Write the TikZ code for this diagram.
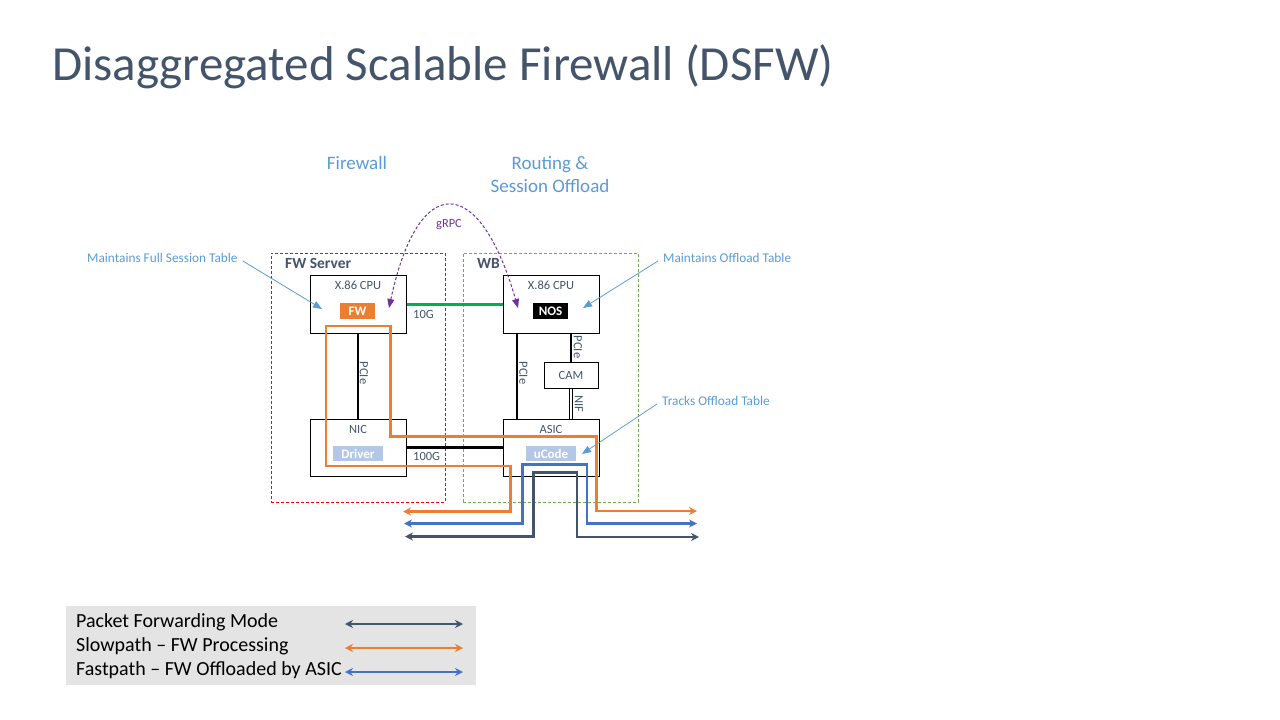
\documentclass[tikz,border=0pt]{standalone}
\usepackage{fontspec}
\setmainfont{Carlito}
\usetikzlibrary{arrows.meta,calc}
\definecolor{slate}{HTML}{44546A}
\definecolor{accblue}{HTML}{5B9BD5}
\definecolor{fworange}{HTML}{ED7D31}
\definecolor{pathblue}{HTML}{4472C4}
\definecolor{linkgreen}{HTML}{00B050}
\definecolor{grpcpurple}{HTML}{7030A0}
\definecolor{wbgreen}{HTML}{70AD47}
\definecolor{tagblue}{HTML}{B4C7E7}
\definecolor{legendgray}{HTML}{E4E4E4}
\newcommand\setsz[1]{\fontsize{#1}{#1}\selectfont}
\begin{document}
\begin{tikzpicture}[x=1pt,y=-1pt,
  hwbox/.style={draw=black, line width=1pt, minimum width=96pt, minimum height=58pt, inner sep=0pt},
  tagbox/.style={minimum width=35pt, minimum height=16pt, inner sep=0pt, text=white, font=\setsz{13}\bfseries},
  swbox/.style={fill=tagblue, minimum width=50pt, minimum height=15pt, inner sep=0pt, text=white, font=\setsz{13}\bfseries},
  lbl/.style={text=slate, font=\setsz{12.5}, inner sep=0pt},
  note/.style={text=accblue, font=\setsz{13.3}, inner sep=0pt},
  heading/.style={text=accblue, font=\setsz{19}, inner sep=0pt, align=center},
  callout/.style={draw=accblue, line width=0.8pt, -{Triangle[length=9pt,width=7pt]}},
  flow/.style={line width=2.4pt, {Stealth[length=8pt,width=8pt]}-{Stealth[length=8pt,width=8pt]}},
  zone/.style={line width=0.9pt, dash pattern=on 3pt off 2pt, inner sep=0pt},
]
\useasboundingbox (0,0) rectangle (1280,720);

% title
\node[anchor=base west, text=slate, font=\setsz{49}, inner sep=0pt] (title) at (52,80) {Disaggregated Scalable Firewall (DSFW)};

% column headings
\node[heading] (hfw) at (357,163) {Firewall};
\node[heading] (hwb) at (550,174.5) {Routing \&\\[4pt]Session Offload};

% dashed enclosures
\node[zone, draw=red, minimum width=174pt, minimum height=249pt] (fwsrv) at (358,377.5) {};
\node[zone, draw=wbgreen, minimum width=175pt, minimum height=249pt] (wb) at (550.5,377.5) {};
\node[anchor=west, text=slate, font=\setsz{15.5}\bfseries, inner sep=0pt] (fwsrvlbl) at (285,263) {FW Server};
\node[anchor=west, text=slate, font=\setsz{15.5}\bfseries, inner sep=0pt] (wblbl) at (477,263) {WB};

% hardware boxes
\node[hwbox] (cpuL) at (358,304) {};
\node[hwbox, minimum height=57pt] (nic) at (358,447.5) {};
\node[hwbox] (cpuR) at (551,304) {};
\node[hwbox, minimum height=57pt] (asic) at (551,447.5) {};
\node[draw=black, line width=1pt, minimum width=54pt, minimum height=26pt, inner sep=0pt, text=slate, font=\setsz{12.5}] (cam) at (571,375) {CAM};

\node[lbl] at ($(cpuL.north)+(0,10.5)$) {X.86 CPU};
\node[lbl] at ($(cpuR.north)+(0,10.5)$) {X.86 CPU};
\node[lbl] at ($(nic.north)+(0,10.5)$) {NIC};
\node[lbl] at ($(asic.north)+(0,10.5)$) {ASIC};

\node[tagbox, fill=fworange] (fw) at (357.5,311) {FW};
\node[tagbox, fill=black] (nos) at (550.5,311) {NOS};
\node[swbox] (drv) at (358,453.5) {Driver};
\node[swbox] (ucode) at (551,453.5) {uCode};

% links
\draw[linkgreen, line width=3pt] (cpuL.east) -- (cpuR.west);
\node[lbl, anchor=west] (l10g) at (413,314) {10G};
\draw[black, line width=3.5pt] (nic.east) -- (asic.west);
\node[lbl, anchor=west] (l100g) at (413,456) {100G};

\draw[black, line width=2pt] (cpuL.south) -- (nic.north);
\node[lbl, rotate=-90] at (364,373) {PCIe};
\draw[black, line width=2pt] ($(cpuR.south west)+(14,0)$) -- ($(asic.north west)+(14,0)$);
\node[lbl, rotate=-90] at (523.5,373) {PCIe};
\draw[black, line width=2pt] (cpuR.south -| cam.north) -- (cam.north);
\node[lbl, rotate=-90] at (578,347) {PCIe};
\draw[black, line width=0.8pt, double=white, double distance=1.6pt] (cam.south) -- (asic.north -| cam.south);
\node[lbl, rotate=-90] at (579,404) {NIF};

% gRPC control channel
\coordinate (gA) at (389,308);
\coordinate (gB) at (518,308);
\draw[grpcpurple, line width=1pt, dash pattern=on 3pt off 2pt, {Triangle[length=9pt,width=7pt]}-{Triangle[length=9pt,width=7pt]}]
  (gA) .. controls (418,172) and (479,172) .. (gB);
\node[text=grpcpurple, font=\setsz{12.4}, inner sep=0pt] (grpc) at (449,225) {gRPC};

% callouts
\node[note, anchor=west] (n1) at (87,258) {Maintains Full Session Table};
\node[note, anchor=west] (n2) at (663,258) {Maintains Offload Table};
\node[note, anchor=west] (n3) at (662,401) {Tracks Offload Table};
\coordinate (t1) at (322,309);
\coordinate (t2) at (583,308);
\coordinate (t3) at (582,454);
\draw[callout] ($(n1.east)+(5,3)$) -- (t1);
\draw[callout] ($(n2.west)+(-5,3)$) -- (t2);
\draw[callout] ($(n3.west)+(-5,3)$) -- (t3);

% packet paths
\coordinate (oA) at (403,511.5);
\coordinate (oB) at (697,511);
\coordinate (bA) at (404,523.5);
\coordinate (bB) at (697,523.5);
\coordinate (dA) at (405,536.5);
\coordinate (dB) at (699,537);
\draw[flow, fworange, line join=miter] (oA) -- (510.5,511.5) -- (510.5,466) -- (326,466) -- (326,326) -- (390.5,326) -- (390.5,436.5) -- (596.5,436.5) -- (596.5,511) -- (oB);
\draw[flow, pathblue, line join=miter] (bA) -- (522.5,523.5) -- (522.5,464.5) -- (587,464.5) -- (587,523.5) -- (bB);
\draw[flow, slate, line join=miter] (dA) -- (533.5,536.5) -- (533.5,472.5) -- (577,472.5) -- (577,537) -- (dB);

% legend
\node[fill=legendgray, minimum width=410pt, minimum height=79pt, inner sep=0pt] (legend) at (271,645.5) {};
\node[anchor=base west, font=\setsz{20}, inner sep=0pt] (lg1) at (76,627) {Packet Forwarding Mode};
\node[anchor=base west, font=\setsz{20}, inner sep=0pt] (lg2) at (76,651) {Slowpath -- FW Processing};
\node[anchor=base west, font=\setsz{20}, inner sep=0pt] (lg3) at (76,675) {Fastpath -- FW Offloaded by ASIC};
\coordinate (k1a) at (345,624); \coordinate (k1b) at (463,624);
\coordinate (k2a) at (345,648); \coordinate (k2b) at (463,648);
\coordinate (k3a) at (345,672); \coordinate (k3b) at (463,672);
\draw[flow, slate] (k1a) -- (k1b);
\draw[flow, fworange] (k2a) -- (k2b);
\draw[flow, pathblue] (k3a) -- (k3b);
\end{tikzpicture}
\end{document}
